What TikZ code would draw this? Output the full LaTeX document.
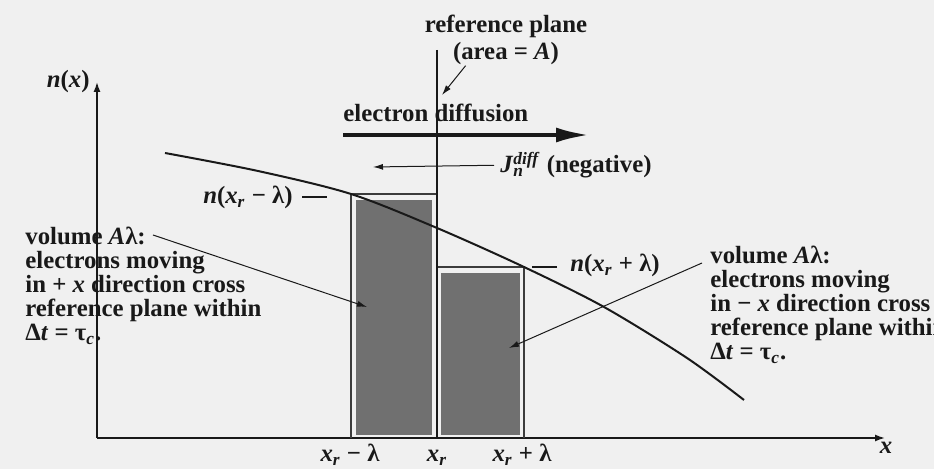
\documentclass[tikz,border=0pt]{standalone}
\usepackage{fontspec}
\setmainfont{Liberation Serif}
\usetikzlibrary{arrows.meta,positioning,calc}
\definecolor{scanbg}{RGB}{240,240,240}
\definecolor{barshade}{RGB}{112,112,112}
\definecolor{inkdark}{RGB}{25,25,25}
\tikzset{
  figtext/.style={font=\fontsize{12.4}{12}\selectfont\bfseries, inner sep=0pt, text=inkdark},
  blocktext/.style={figtext, align=left, anchor=north west},
  axisline/.style={-{Latex[length=5pt,width=3.5pt]}, line width=0.75pt, inkdark},
  thinarrow/.style={-{Latex[length=5pt,width=3pt]}, line width=0.5pt, inkdark},
  bigarrow/.style={-{Latex[length=17pt,width=7.5pt]}, line width=2.2pt, inkdark},
  boxline/.style={draw=inkdark!85, line width=0.6pt},
  barfill/.style={fill=barshade, draw=none},
  densline/.style={line width=1pt, inkdark},
  leader/.style={line width=0.6pt, inkdark}
}
\begin{document}
\begin{tikzpicture}[x=0.5pt, y=-0.5pt]
  \fill[scanbg] (0,0) rectangle (934,469);
  \useasboundingbox (0,0) rectangle (934,469);
  % axes
  \coordinate (org) at (97,438);
  \coordinate (ytop) at (97,82);
  \coordinate (xend) at (885,438);
  \draw[axisline] (org) -- (ytop);
  \draw[axisline] (org) -- (xend);
  \node[figtext, anchor=base east] (nxlbl) at (90,88) {\textit{n}(\textit{x})};
  \node[figtext, anchor=base] (xlbl) at (886,454) {\textit{x}};
  % volumes on either side of the plane
  \draw[boxline] (351,438) -- (351,194) -- (437,194);
  \fill[barfill] (356,200) rectangle (432,435);
  \draw[boxline] (437,267) -- (524,267) -- (524,438);
  \fill[barfill] (441,273) rectangle (520,435);
  % reference plane
  \coordinate (ptop) at (437,50);
  \coordinate (pbot) at (437,438);
  \draw[leader] (ptop) -- (pbot);
  \node[figtext, anchor=base] (reflbl) at (506,33) {reference plane};
  \node[figtext, anchor=base] (arealbl) at (506,60) {(area = \textit{A})};
  \coordinate (pmark) at (442,95);
  \draw[thinarrow] ([xshift=6.5pt]arealbl.south west) -- (pmark);
  % electron density n(x)
  \coordinate (c0) at (165,153);
  \coordinate (cl) at (351,194);
  \coordinate (cm) at (437,228);
  \coordinate (cr) at (524,267);
  \coordinate (c1) at (744,400);
  \draw[densline] plot[smooth, tension=0.5] coordinates
    {(c0) (258,171) (cl) (cm) (cr) (604,307) (687,358) (c1)};
  \node[figtext, anchor=base east] (nlo) at (293,204) {\textit{n}(\textit{x}\textsubscript{\textit{r}} − λ)};
  \draw[leader] ([shift={(4.5pt,3.5pt)}]nlo.base east) -- ++(12.5pt,0);
  \node[figtext, anchor=base west] (nhi) at (570,272) {\textit{n}(\textit{x}\textsubscript{\textit{r}} + λ)};
  \draw[leader] ([shift={(-6.5pt,2.5pt)}]nhi.base west) -- ++(-12.5pt,0);
  % diffusion and current
  \node[figtext, anchor=base west] (difflbl) at (343,122) {electron diffusion};
  \coordinate (ed0) at (343,135);
  \coordinate (ed1) at (590,135);
  \draw[bigarrow] (ed0) -- (ed1);
  \node[figtext, anchor=base west] (jlbl) at (500,173)
    {\textit{J}\rlap{\textsubscript{\textit{n}}}\textsuperscript{\textit{diff}} (negative)};
  \coordinate (jd1) at (373,167);
  \draw[thinarrow] ([xshift=-3pt]jlbl.west) -- (jd1);
  % volume notes
  \node[blocktext] (lvol) at (25,227)
    {volume \textit{A}λ:\\electrons moving\\in + \textit{x} direction cross\\reference plane within\\Δ\textit{t} = τ\textsubscript{\textit{c}}.};
  \coordinate (lv0) at (153,235);
  \coordinate (lv1) at (367,307);
  \draw[thinarrow] (lv0) -- (lv1);
  \node[blocktext] (rvol) at (710,246)
    {volume \textit{A}λ:\\electrons moving\\in − \textit{x} direction cross\\reference plane within\\Δ\textit{t} = τ\textsubscript{\textit{c}}.};
  \coordinate (rv0) at (702,263);
  \coordinate (rv1) at (509,348);
  \draw[thinarrow] (rv0) -- (rv1);
  % positions on the x axis
  \node[figtext, anchor=base] (xlo) at (350,462) {\textit{x}\textsubscript{\textit{r}} − λ};
  \node[figtext, anchor=base] (xmid) at (437,462) {\textit{x}\textsubscript{\textit{r}}};
  \node[figtext, anchor=base] (xhi) at (522,462) {\textit{x}\textsubscript{\textit{r}} + λ};
\end{tikzpicture}
\end{document}
